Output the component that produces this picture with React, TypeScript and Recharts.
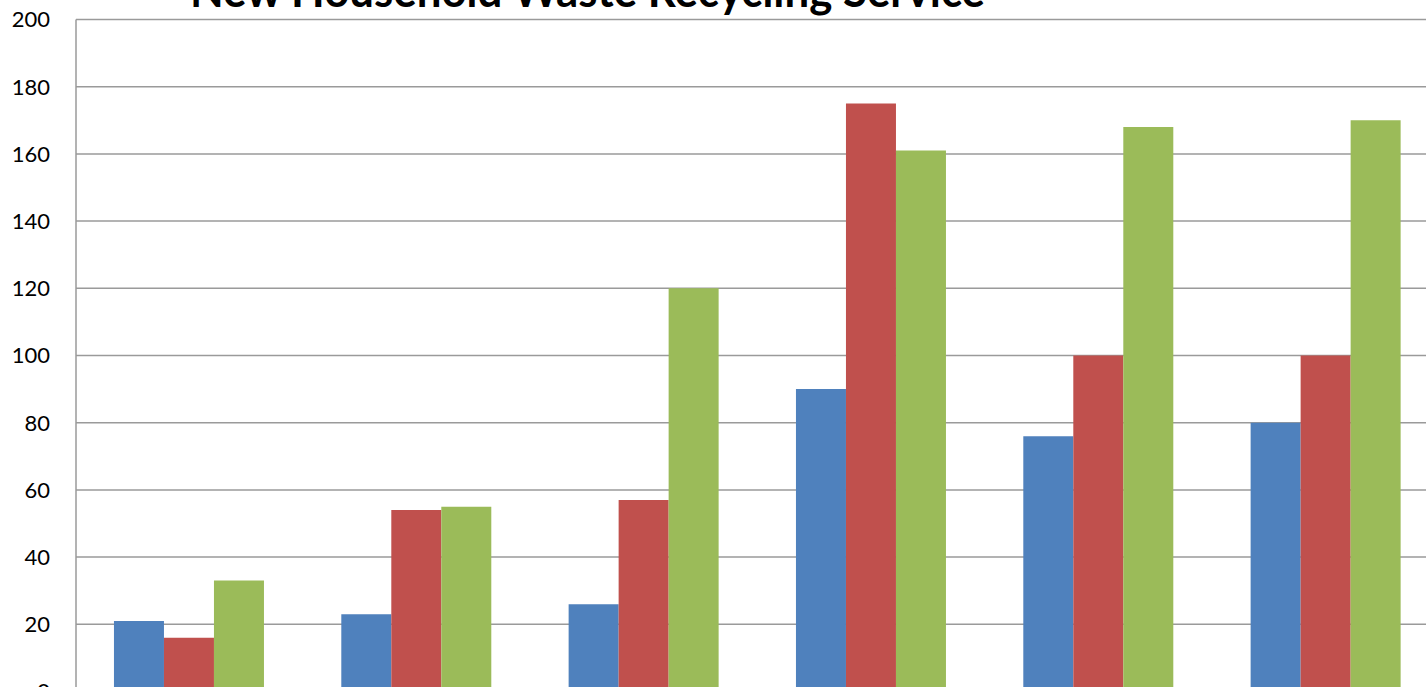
import React from 'react';
import { BarChart, Bar, XAxis, YAxis, CartesianGrid } from 'recharts';

// Categories sit below the visible crop, so they are not drawn.
const categories = ['Period 1', 'Period 2', 'Period 3', 'Period 4', 'Period 5', 'Period 6'];
const series1 = [21, 23, 26, 90, 76, 80];
const series2 = [16, 54, 57, 175, 100, 100];
const series3 = [33, 55, 120, 161, 168, 170];
const yTicks = [0, 20, 40, 60, 80, 100, 120, 140, 160, 180, 200];

const data = categories.map((name, i) => ({
  name,
  s1: series1[i],
  s2: series2[i],
  s3: series3[i],
}));

const SHIFT = 40; // chart is pushed up so the title gets clipped like the reference

export default function App() {
  return (
    <div
      style={{
        position: 'fixed',
        left: 0,
        top: 0,
        width: 1426,
        height: 687,
        overflow: 'hidden',
        background: '#fff',
        fontFamily: 'Lato, "Open Sans", sans-serif',
      }}
    >
      <div style={{ position: 'absolute', left: 0, top: -SHIFT }}>
        <BarChart
          width={1460}
          height={800}
          data={data}
          margin={{ top: 59.5, right: 20, bottom: 68.5, left: 0 }}
          barCategoryGap="16.7%"
          barGap={0}
        >
          <CartesianGrid vertical={false} stroke="#9a9a9a" strokeWidth={1.5} />
          <XAxis dataKey="name" hide />
          <YAxis
            width={76}
            domain={[0, 200]}
            ticks={yTicks}
            interval={0}
            tickLine={false}
            tickSize={0}
            tickMargin={26}
            axisLine={{ stroke: '#9a9a9a', strokeWidth: 1.5 }}
            tick={{ fill: '#000', fontSize: 22, fontFamily: 'Lato, "Open Sans", sans-serif' }}
          />
          <Bar dataKey="s1" fill="#4F81BD" isAnimationActive={false} />
          <Bar dataKey="s2" fill="#C0504D" isAnimationActive={false} />
          <Bar dataKey="s3" fill="#9BBB59" isAnimationActive={false} />
        </BarChart>
        <svg
          width={1000}
          height={60}
          style={{ position: 'absolute', left: 0, top: 0, pointerEvents: 'none' }}
        >
          <text
            x={190}
            y={SHIFT + 7}
            fontSize={46}
            fontWeight={700}
            fill="#000"
            textLength={795}
            lengthAdjust="spacingAndGlyphs"
            style={{ fontFamily: 'Lato, "Open Sans", sans-serif' }}
          >
            New Household Waste Recycling Service
          </text>
        </svg>
      </div>
    </div>
  );
}
